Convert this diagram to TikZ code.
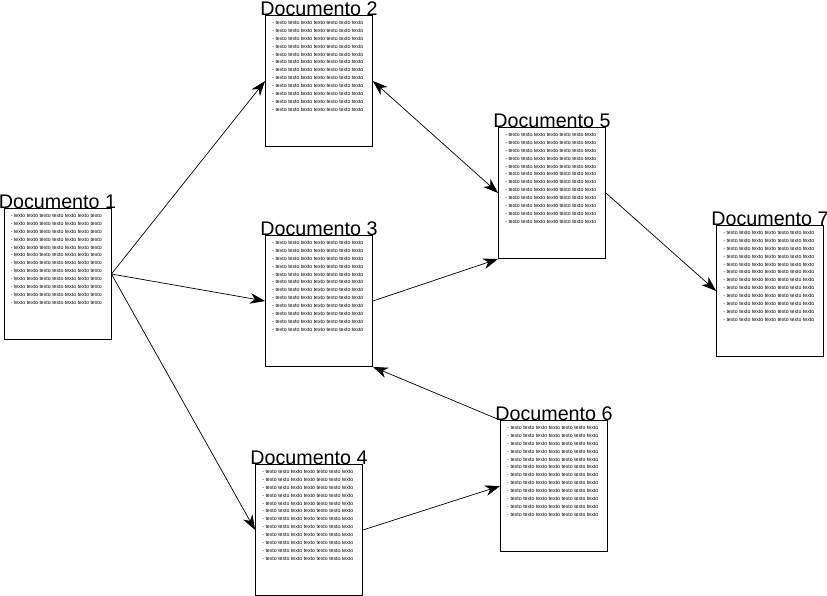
\documentclass[tikz,border=0pt]{standalone}
\usepackage{fontspec}
\setmainfont{Liberation Sans}
\usepackage{tikz}
\usetikzlibrary{arrows.meta}

\newcommand{\umalinha}{- texto texto texto texto texto texto texto}
\newcommand{\linhas}{\umalinha\\\umalinha\\\umalinha\\\umalinha\\\umalinha\\\umalinha\\
  \umalinha\\\umalinha\\\umalinha\\\umalinha\\\umalinha\\\umalinha}

\begin{document}
\begin{tikzpicture}
  [x=0.03cm,y=-0.03cm,
   doc/.style={draw,line width=0.7pt,minimum width=3.21cm,minimum height=3.93cm,inner sep=0pt},
   titulo/.style={anchor=base,inner sep=0pt,font=\fontsize{16.8}{18}\selectfont},
   corpo/.style={anchor=north west,inner sep=0pt,align=left,font=\fontsize{4.45}{6.7}\selectfont},
   ponta/.tip={Stealth[length=4.5mm,width=3.2mm,inset=1.4mm]},
   seta/.style={line width=0.6pt,-ponta}]
  \useasboundingbox (0,0) rectangle (827,596);

  \node[doc] (d1) at (57.5,274) {};
  \node[doc] (d2) at (319,81) {};
  \node[doc] (d3) at (319,301) {};
  \node[doc] (d4) at (309,530) {};
  \node[doc] (d5) at (552,193) {};
  \node[doc] (d6) at (554,486) {};
  \node[doc] (d7) at (770,291) {};

  \foreach \n in {1,...,7} {
    \node[titulo] (t\n) at (d\n.north) {Documento \n};
    \node[corpo] (c\n) at ([xshift=0.21cm,yshift=-0.18cm]d\n.north west) {\linhas};
  }

  \foreach \from/\to in {d1.east/d2.west,d1.east/d3.west,d1.east/d4.west,d3.east/d5.south west,
                         d5.east/d7.west,d6.north west/d3.south east,d4.east/d6.west}
    \draw[seta] (\from) -- (\to);
  \draw[seta,ponta-ponta] (d2.east) -- (d5.west);

\end{tikzpicture}
\end{document}
